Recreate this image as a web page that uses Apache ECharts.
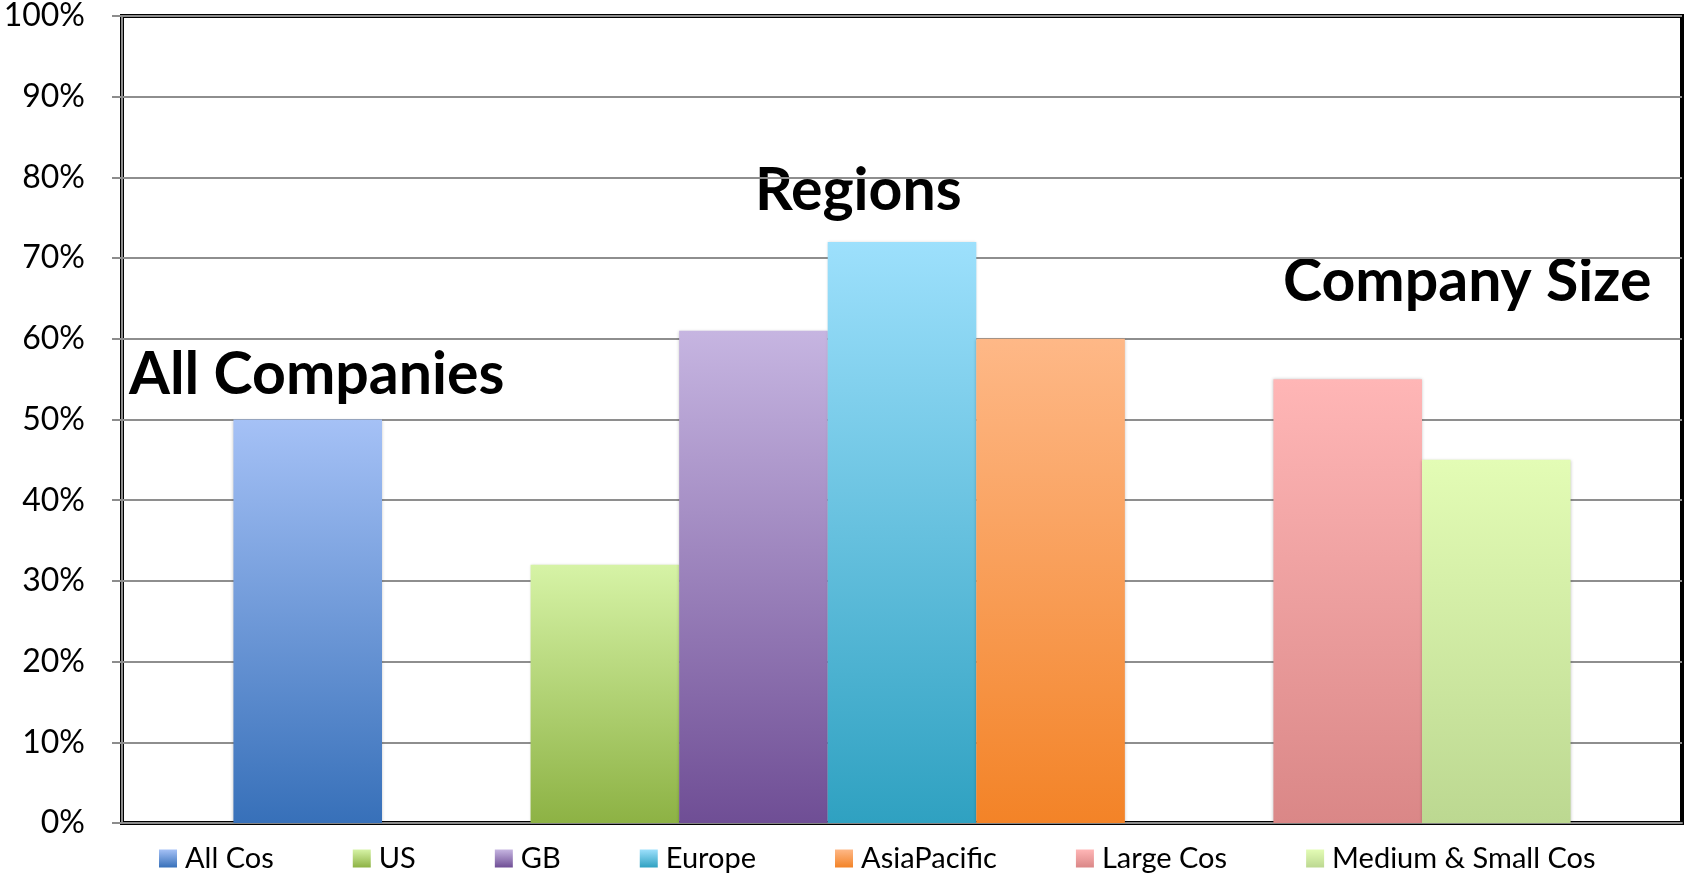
<!DOCTYPE html>
<html>
<head>
<meta charset="utf-8">
<script src="https://cdn.jsdelivr.net/npm/echarts@6/dist/echarts.min.js"></script>
<style>
  html, body { margin: 0; padding: 0; background: #ffffff; }
  #chart { width: 1684px; height: 875px; }
</style>
</head>
<body>
<div id="chart"></div>
<script>
// ---- data ----
const groupNames = ['All Companies', 'Regions', 'Company Size'];
const seriesNames = ['All Cos', 'US', 'GB', 'Europe', 'AsiaPacific', 'Large Cos', 'Medium & Small Cos'];
const seriesValues = [50, 32, 61, 72, 60, 55, 45];          // percent
const seriesGroup = [0, 1, 1, 1, 1, 2, 2];                   // index into groupNames
const yTicks = [0, 10, 20, 30, 40, 50, 60, 70, 80, 90, 100];  // percent

// ---- styling ----
const topColors    = ['#A5C1F6', '#D6F3A6', '#C6B5E1', '#9DE0FC', '#FEB887', '#FFB6B6', '#E3FCB5'];
const bottomColors = ['#3770B9', '#8DB244', '#6F4E95', '#2FA1C1', '#F38327', '#DA8787', '#BCD891'];

// Each group reserves a cluster of column slots centred in its span
const slotsPerGroup = [2, 5, 2];
const groupSpan = 3.5;               // width of a group, in column widths
const axisMax = groupSpan * groupNames.length;

const gridBox = { left: 122, right: 2, top: 16, bottom: 52 };

const chart = echarts.init(document.getElementById('chart'));
const gridWidth = chart.getWidth() - gridBox.left - gridBox.right;
const columnWidth = gridWidth / axisMax;

const rankInGroup = seriesGroup.map((g, i) => seriesGroup.slice(0, i).filter(x => x === g).length);
const columnCenter = seriesGroup.map((g, i) =>
  g * groupSpan + groupSpan / 2 + (rankInGroup[i] - (slotsPerGroup[g] - 1) / 2));

const series = seriesNames.map((name, i) => ({
  name: name,
  type: 'bar',
  barWidth: columnWidth,
  barGap: '-100%',
  data: [[columnCenter[i], seriesValues[i]]],
  itemStyle: {
    color: new echarts.graphic.LinearGradient(0, 0, 0, 1, [
      { offset: 0, color: topColors[i] },
      { offset: 1, color: bottomColors[i] }
    ]),
    shadowColor: 'rgba(0,0,0,0.22)',
    shadowBlur: 3
  },
  emphasis: { disabled: true }
}));

const labelFont = 'Lato';
const headingFont = 'bold 59px Lato';

chart.setOption({
  animation: false,
  backgroundColor: '#ffffff',
  grid: {
    left: gridBox.left, right: gridBox.right, top: gridBox.top, bottom: gridBox.bottom,
    show: true, borderColor: '#000000', borderWidth: 4, backgroundColor: 'transparent'
  },
  xAxis: {
    type: 'value', min: 0, max: axisMax,
    offset: 3,
    axisLine: { show: true, lineStyle: { color: '#8c8c8c', width: 2 } },
    axisTick: { show: false }, axisLabel: { show: false }, splitLine: { show: false }
  },
  yAxis: {
    type: 'value', min: yTicks[0], max: yTicks[yTicks.length - 1], interval: yTicks[1] - yTicks[0],
    offset: 3,
    axisLine: { show: true, lineStyle: { color: '#8c8c8c', width: 2 } },
    axisTick: { show: true, length: 10, lineStyle: { color: '#8c8c8c', width: 2 } },
    axisLabel: { formatter: '{value}%', color: '#000000', fontFamily: labelFont, fontSize: 32, margin: 34 },
    splitLine: { show: true, lineStyle: { color: '#8e8e8e', width: 2 } }
  },
  legend: {
    left: 159, top: 844, padding: 0,
    icon: 'rect', itemWidth: 18, itemHeight: 18, itemGap: 79,
    selectedMode: false,
    textStyle: { color: '#000000', fontFamily: labelFont, fontSize: 29, padding: [0, 0, 0, 3] },
    data: seriesNames
  },
  graphic: [
    { type: 'text', left: 129, top: 345, style: { text: groupNames[0], font: headingFont, fill: '#000000' } },
    { type: 'text', left: 755, top: 161, style: { text: groupNames[1], font: headingFont, fill: '#000000' } },
    { type: 'text', left: 1283, top: 252, style: { text: groupNames[2], font: headingFont, fill: '#000000' } }
  ],
  series: series
});
</script>
</body>
</html>
